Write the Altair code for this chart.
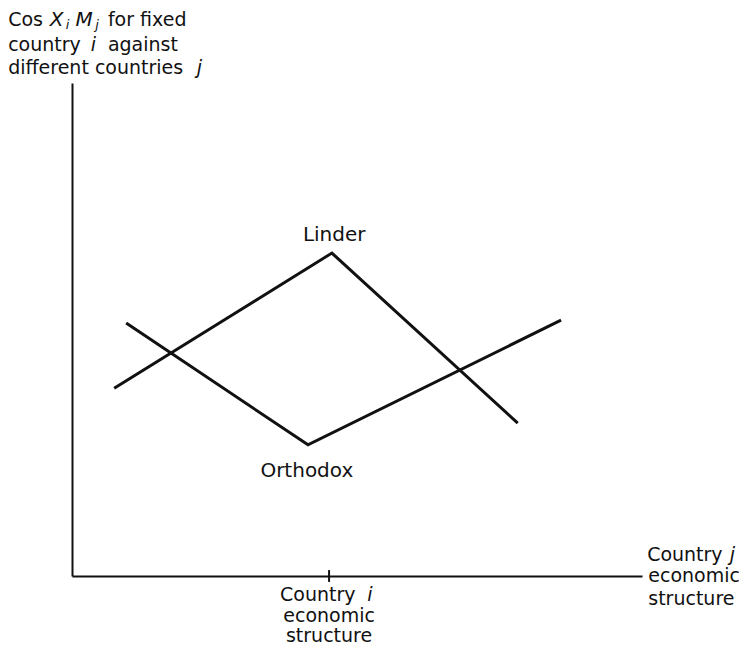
import altair as alt
import pandas as pd

# ---- data (abstract units, 0..100 on both axes) ----
linder_x = [7.4, 45.6, 78.2]
linder_y = [38.1, 65.5, 31.0]
orthodox_x = [9.5, 41.4, 85.8]
orthodox_y = [51.3, 26.6, 51.9]
country_i_x = 45.1

# labels: upright, left-anchored
plain_text = ["Cos", "for fixed", "country", "against", "different countries",
              "Country", "Country", "economic", "structure"]
plain_x = [-11.2, 6.3, -11.2, 6.3, -11.2, 36.5, 100.9, 101.1, 101.1]
plain_y = [111.6, 111.6, 106.5, 106.5, 101.8, -5.1, 3.0, -1.2, -5.9]

# labels: upright, centred
center_text = ["Linder", "Orthodox", "economic", "structure"]
center_x = [46.0, 41.2, 45.1, 45.1]
center_y = [68.0, 20.1, -9.4, -13.4]
center_size = [20, 20, 19, 19]

# labels: italic, left-anchored (with subscripts)
ital_text = ["X", "i", "M", "j", "i", "j", "i", "j"]
ital_x = [-3.9, -1.1, 0.6, 4.1, 3.3, 21.9, 51.8, 115.4]
ital_y = [111.6, 110.9, 111.6, 110.9, 106.5, 101.8, -5.1, 3.0]
ital_size = [20, 13, 20, 13, 19, 19, 19, 19]

lines_df = pd.DataFrame({
    "series": ["Linder"] * 3 + ["Orthodox"] * 3,
    "order": [0, 1, 2, 0, 1, 2],
    "x": linder_x + orthodox_x,
    "y": linder_y + orthodox_y,
})
plain_df = pd.DataFrame({"t": plain_text, "x": plain_x, "y": plain_y})
center_df = pd.DataFrame({"t": center_text, "x": center_x, "y": center_y, "s": center_size})
ital_df = pd.DataFrame({"t": ital_text, "x": ital_x, "y": ital_y, "s": ital_size})
tick_df = pd.DataFrame({"x": [country_i_x], "y": [-1.2], "y2": [1.2]})

FONT = "DejaVu Sans"
INK = "#111111"

xs = alt.Scale(domain=[0, 100], nice=False, zero=False)
ys = alt.Scale(domain=[0, 100], nice=False, zero=False)
ax = alt.Axis(labels=False, ticks=False, grid=False, title=None, domain=True,
              domainColor=INK, domainWidth=2)

lines = alt.Chart(lines_df).mark_line(strokeWidth=3, color=INK).encode(
    x=alt.X("x:Q", scale=xs, axis=ax),
    y=alt.Y("y:Q", scale=ys, axis=ax),
    detail="series:N",
    order="order:Q",
)

tick = alt.Chart(tick_df).mark_rule(strokeWidth=2, color=INK).encode(
    x=alt.X("x:Q", scale=xs), y=alt.Y("y:Q", scale=ys), y2="y2:Q"
)

plain = alt.Chart(plain_df).mark_text(
    font=FONT, fontSize=19, align="left", baseline="alphabetic", color=INK
).encode(x=alt.X("x:Q", scale=xs), y=alt.Y("y:Q", scale=ys), text="t:N")

center = alt.Chart(center_df).mark_text(
    font=FONT, align="center", baseline="alphabetic", color=INK
).encode(x=alt.X("x:Q", scale=xs), y=alt.Y("y:Q", scale=ys), text="t:N",
         size=alt.Size("s:Q", scale=None))

ital = alt.Chart(ital_df).mark_text(
    font=FONT, fontStyle="italic", align="left", baseline="alphabetic", color=INK
).encode(x=alt.X("x:Q", scale=xs), y=alt.Y("y:Q", scale=ys), text="t:N",
         size=alt.Size("s:Q", scale=None))

chart = alt.layer(lines, tick, plain, center, ital).properties(
    width=570, height=493,
    padding={"left": 64, "top": 75, "right": 97, "bottom": 69},
    autosize=alt.AutoSizeParams(type="none"),
    background="white",
).configure_view(stroke=None)

chart.save("out.html", embed_options={"renderer": "svg", "actions": False})
